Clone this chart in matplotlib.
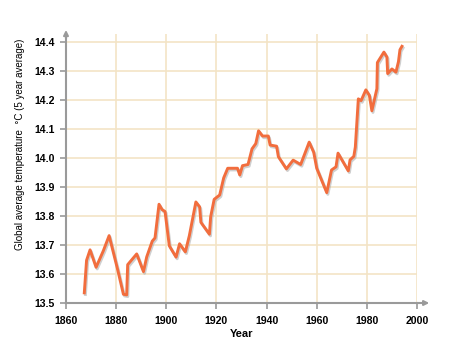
import matplotlib
matplotlib.use("Agg")
import matplotlib.pyplot as plt
import matplotlib.patheffects as pe

plt.rcParams['font.family'] = ['Liberation Sans', 'DejaVu Sans']

years = [1867.3, 1868.2, 1869.6, 1872.0, 1874.9, 1877.2, 1880.6, 1882.9, 1884.2, 1884.6,
         1888.2, 1890.9, 1892.2, 1894.4, 1895.5, 1897.1, 1898.3, 1899.5, 1901.2, 1903.9,
         1905.3, 1907.6, 1909.2, 1911.8, 1913.3, 1913.8, 1917.2, 1917.7, 1919.1, 1921.3,
         1922.9, 1924.5, 1928.4, 1929.3, 1930.4, 1932.6, 1934.2, 1935.7, 1936.8, 1938.4,
         1940.7, 1941.4, 1944.0, 1944.7, 1947.9, 1950.6, 1953.6, 1957.0, 1958.8, 1960.0,
         1964.0, 1965.9, 1967.7, 1968.5, 1972.6, 1973.3, 1974.8, 1975.4, 1976.6, 1977.7,
         1979.6, 1981.0, 1982.0, 1984.0, 1984.2, 1986.8, 1988.0, 1988.3, 1990.0, 1991.6,
         1992.6, 1993.2, 1994.0]
temps = [13.535, 13.647, 13.683, 13.623, 13.680, 13.732, 13.615, 13.530, 13.528, 13.632,
         13.669, 13.608, 13.659, 13.713, 13.724, 13.840, 13.822, 13.815, 13.697, 13.658,
         13.704, 13.676, 13.732, 13.848, 13.831, 13.778, 13.737, 13.797, 13.857, 13.872,
         13.931, 13.964, 13.964, 13.941, 13.973, 13.977, 14.031, 14.049, 14.093, 14.075,
         14.075, 14.044, 14.040, 14.004, 13.962, 13.992, 13.977, 14.054, 14.019, 13.964,
         13.880, 13.958, 13.969, 14.016, 13.955, 13.993, 14.005, 14.037, 14.203, 14.197,
         14.234, 14.215, 14.162, 14.238, 14.328, 14.364, 14.347, 14.290, 14.306, 14.295,
         14.331, 14.372, 14.384]

xticks = [1860, 1880, 1900, 1920, 1940, 1960, 1980, 2000]
yticks = [13.5, 13.6, 13.7, 13.8, 13.9, 14.0, 14.1, 14.2, 14.3, 14.4]

fig = plt.figure(figsize=(4.5, 3.48), dpi=100)
ax = fig.add_axes([66/450, 1-303/348, (417-66)/450, (303-34.4)/348])
ax.set_xlim(1860, 2000)
ax.set_ylim(13.5, 14.425)

grid_c = '#f3e4c6'
for x in xticks[1:]:
    ax.axvline(x, color=grid_c, lw=1.2, zorder=1)
for y in yticks[1:]:
    ax.axhline(y, color=grid_c, lw=1.2, zorder=1)

ax.plot(years, temps, color='#f26d3d', lw=2.1, solid_joinstyle='round', zorder=3,
        path_effects=[pe.SimpleLineShadow(offset=(0.8, -1.2), shadow_color='#b0b0b0', alpha=0.6),
                      pe.Normal()])

for s in ['top', 'right']:
    ax.spines[s].set_visible(False)
axis_c = '#9a9a9a'
for s in ['left', 'bottom']:
    ax.spines[s].set_color(axis_c)
    ax.spines[s].set_linewidth(1.5)

ax.annotate('', xy=(2006, 13.5), xytext=(1999, 13.5), xycoords='data',
            arrowprops=dict(arrowstyle='-|>', color=axis_c, lw=1.5, mutation_scale=7),
            annotation_clip=False)
ax.annotate('', xy=(1860, 14.45), xytext=(1860, 14.40), xycoords='data',
            arrowprops=dict(arrowstyle='-|>', color=axis_c, lw=1.5, mutation_scale=7),
            annotation_clip=False)

ax.set_xticks(xticks)
ax.set_yticks(yticks)
ax.set_xticklabels([str(v) for v in xticks], fontweight='bold', fontsize=7.6)
ax.set_yticklabels([f'{v:.1f}' for v in yticks], fontweight='bold', fontsize=7.6)
ax.tick_params(axis='both', color=axis_c, width=1.2, length=4, pad=4)
ax.tick_params(axis='x', pad=5)

ax.set_xlabel('Year', fontweight='bold', fontsize=8)
ax.xaxis.set_label_coords(0.5, -0.095)
ax.set_ylabel('Global average temperature  °C (5 year average)', fontsize=7)
ax.yaxis.set_label_coords(-0.117, 0.592)

fig.savefig('out.png', dpi=100)
